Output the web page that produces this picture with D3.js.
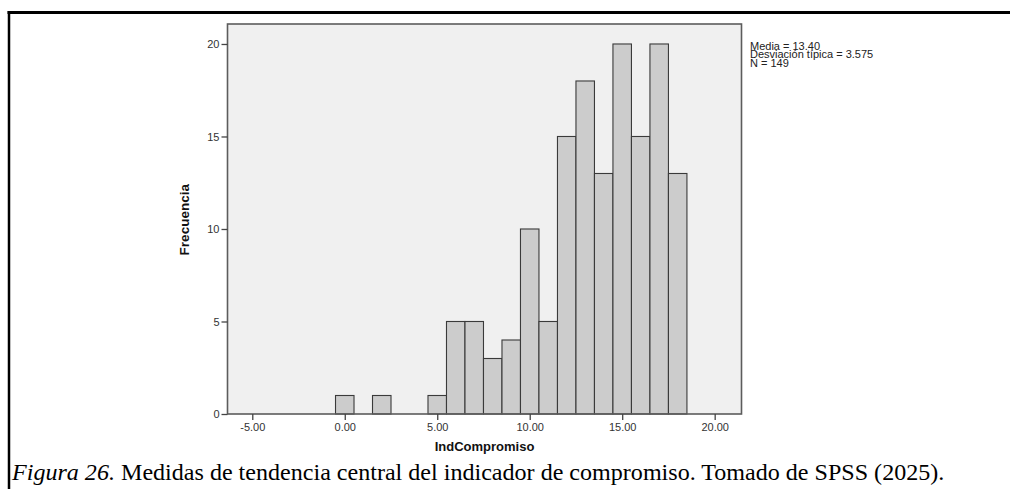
<!DOCTYPE html>
<html>
<head>
<meta charset="utf-8">
<script src="https://cdn.jsdelivr.net/npm/d3@7"></script>
<style>
  html, body { margin: 0; padding: 0; background: #ffffff; }
  svg { display: block; }
  .tick text { font-family: "Liberation Sans", Arial, sans-serif; font-size: 11px; fill: #333; }
  .tick line { stroke: #444; stroke-width: 1.3px; }
</style>
</head>
<body>
<svg id="chart" width="1010" height="489"></svg>
<script>
// Histogram of IndCompromiso (bins of width 1, centred on each value)
const binCenters = [0, 2, 5, 6, 7, 8, 9, 10, 11, 12, 13, 14, 15, 16, 17, 18];
const binCounts  = [1, 1, 1, 5, 5, 3, 4, 10, 5, 15, 18, 13, 20, 15, 20, 13];
const binWidth = 1;

const xTicks = [-5, 0, 5, 10, 15, 20];
const yTicks = [0, 5, 10, 15, 20];

const statsLines = ["Media = 13.40", "Desviación típica = 3.575", "N = 149"];
const xTitle = "IndCompromiso";
const yTitle = "Frecuencia";
const captionItalic = "Figura 26.";
const captionRest = " Medidas de tendencia central del indicador de compromiso. Tomado de SPSS (2025).";

const svg = d3.select("#chart");

// Plot frame
const plot = { left: 227.5, right: 741.5, top: 24, bottom: 414 };

const x = d3.scaleLinear().domain([-6.34, 21.45]).range([plot.left, plot.right]);
const y = d3.scaleLinear().domain([0, 21.08]).range([plot.bottom, plot.top]);

// Number format with a plain hyphen for negatives
const fmt2 = d3.formatLocale({ decimal: ".", thousands: ",", grouping: [3], currency: ["", ""], minus: "-" }).format(".2f");

// Outer figure frame (top and left rules)
svg.append("line").attr("x1", 7.5).attr("x2", 1010).attr("y1", 12.5).attr("y2", 12.5)
  .attr("stroke", "#000").attr("stroke-width", 3);
svg.append("line").attr("x1", 9).attr("x2", 9).attr("y1", 11).attr("y2", 489)
  .attr("stroke", "#000").attr("stroke-width", 2.5);

// Plot background
svg.append("rect")
  .attr("x", plot.left).attr("y", plot.top)
  .attr("width", plot.right - plot.left).attr("height", plot.bottom - plot.top)
  .attr("fill", "#f0f0f0");

// Bars
const data = binCenters.map((c, i) => ({ c, n: binCounts[i] }));
svg.append("g").selectAll("rect").data(data).join("rect")
  .attr("x", d => x(d.c - binWidth / 2))
  .attr("width", d => x(d.c + binWidth / 2) - x(d.c - binWidth / 2))
  .attr("y", d => y(d.n))
  .attr("height", d => y(0) - y(d.n))
  .attr("fill", "#cccccc")
  .attr("stroke", "#3a3a3a")
  .attr("stroke-width", 1.1);

// Plot border
svg.append("rect")
  .attr("x", plot.left).attr("y", plot.top)
  .attr("width", plot.right - plot.left).attr("height", plot.bottom - plot.top)
  .attr("fill", "none").attr("stroke", "#5c5c5c").attr("stroke-width", 1.6);

// Axes
const yAxis = svg.append("g")
  .attr("transform", `translate(${plot.left},0)`)
  .call(d3.axisLeft(y).tickValues(yTicks).tickSize(6).tickPadding(2).tickFormat(d3.format("d")));
yAxis.select(".domain").remove();

const xAxis = svg.append("g")
  .attr("transform", `translate(0,${plot.bottom})`)
  .call(d3.axisBottom(x).tickValues(xTicks).tickSize(6).tickPadding(3).tickFormat(fmt2));
xAxis.select(".domain").remove();

// Axis titles
svg.append("text")
  .attr("x", (plot.left + plot.right) / 2).attr("y", 451)
  .attr("text-anchor", "middle")
  .attr("font-family", "Liberation Sans, Arial, sans-serif")
  .attr("font-size", 13).attr("font-weight", "bold").attr("fill", "#111")
  .text(xTitle);

svg.append("text")
  .attr("transform", `translate(189,${y(10.5)}) rotate(-90)`)
  .attr("text-anchor", "middle")
  .attr("font-family", "Liberation Sans, Arial, sans-serif")
  .attr("font-size", 13.5).attr("font-weight", "bold").attr("fill", "#111")
  .text(yTitle);

// Summary statistics
svg.append("g").selectAll("text").data(statsLines).join("text")
  .attr("x", 750)
  .attr("y", (d, i) => 49.5 + i * 8.5)
  .attr("font-family", "Liberation Sans, Arial, sans-serif")
  .attr("font-size", 11).attr("fill", "#222")
  .text(d => d);

// Figure caption
const cap = svg.append("text")
  .attr("x", 0).attr("y", 0)
  .attr("font-family", "Liberation Serif, 'Times New Roman', serif")
  .attr("font-size", 23).attr("fill", "#000");
cap.append("tspan").attr("font-style", "italic").text(captionItalic);
cap.append("tspan").text(captionRest);
const capW = cap.node().getComputedTextLength();
const capSx = (945 - 12) / capW;
cap.attr("transform", `translate(12,480) scale(${capSx},1)`);
</script>
</body>
</html>
